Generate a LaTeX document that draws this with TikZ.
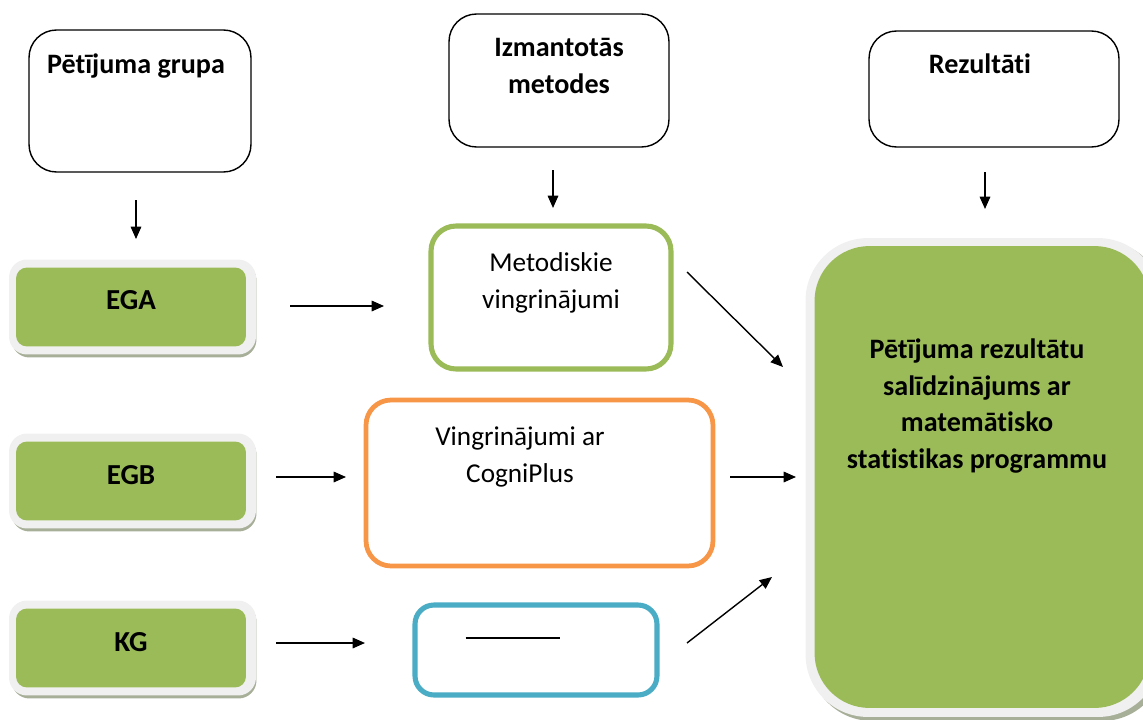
\documentclass[tikz,border=0pt]{standalone}
\usepackage{fontspec}
\setmainfont{Carlito}[Ligatures=NoCommon]
\usetikzlibrary{arrows.meta}
\definecolor{gfill}{HTML}{9BBB59}
\definecolor{gborder}{HTML}{F0F0F0}
\definecolor{gshadow}{HTML}{A7AF98}
\definecolor{orangeb}{HTML}{F79646}
\definecolor{blueb}{HTML}{4BACC6}
\tikzset{
  headbox/.style={draw=black, line width=0.8pt, rounded corners=0.55cm, fill=white},
  headtxt/.style={font=\fontsize{16}{21}\selectfont\bfseries, align=center},
  greenbox/.style={fill=gfill, rounded corners=0.22cm, minimum width=4.6cm, minimum height=1.58cm, inner sep=0pt},
  greenouter/.style={fill=gborder, rounded corners=0.36cm, minimum width=4.94cm, minimum height=1.9cm, inner sep=0pt},
  greenshadow/.style={fill=gshadow, rounded corners=0.36cm, minimum width=4.9cm, minimum height=1.9cm, inner sep=0pt},
  grptxt/.style={font=\fontsize{16.5}{21}\selectfont\bfseries},
  methbox/.style={rounded corners=0.5cm, fill=white, inner sep=0pt},
  bodytxt/.style={font=\fontsize{15.5}{21}\selectfont, align=center},
  arr/.style={-{Triangle[length=7pt,width=6pt]}, line width=0.8pt},
}
\begin{document}
\begin{tikzpicture}[x=0.02cm,y=-0.02cm]
\useasboundingbox (0,0) rectangle (1143,720);
% header boxes
\node[headbox, minimum width=4.44cm, minimum height=2.84cm] (h1) at (140,101) {};
\node[headtxt] (h1t) at (136,66) {Pētījuma grupa};
\node[headbox, minimum width=4.4cm, minimum height=2.66cm] (h2) at (559,80.5) {};
\node[headtxt] (h2t) at (559,66) {Izmantotās\\metodes};
\node[headbox, minimum width=5.0cm, minimum height=2.32cm] (h3) at (994,89) {};
\node[headtxt] (h3t) at (980,64) {Rezultāti};
% down arrows
\coordinate (d1s) at (136,200); \coordinate (d1e) at (136,239);
\coordinate (d2s) at (553,170); \coordinate (d2e) at (553,208);
\coordinate (d3s) at (985,172); \coordinate (d3e) at (985,209);
\draw[arr] (d1s) -- (d1e);
\draw[arr] (d2s) -- (d2e);
\draw[arr] (d3s) -- (d3e);
% group boxes
\foreach \nm/\yy in {ega/307, egb/481, kg/648}{
  \node[greenshadow] (\nm s) at (134,\yy+3) {};
  \node[greenouter] (\nm o) at (132.5,\yy) {};
  \node[greenbox] (\nm) at (131,\yy) {};
}
\node[grptxt] (egat) at (131,300) {EGA};
\node[grptxt] (egbt) at (131,475) {EGB};
\node[grptxt] (kgt) at (131,642) {KG};
% method boxes
\node[methbox, draw=gfill, line width=2.9pt, minimum width=4.8cm, minimum height=2.86cm] (met) at (551,297.5) {};
\node[bodytxt] (mett) at (551,283) {Metodiskie\\vingrinājumi};
\node[methbox, draw=orangeb, line width=2.7pt, minimum width=6.94cm, minimum height=3.32cm] (cog) at (539.5,483) {};
\node[bodytxt] (cogt) at (520,457) {Vingrinājumi ar\\CogniPlus};
\node[methbox, draw=blueb, line width=2.9pt, rounded corners=0.38cm, minimum width=4.84cm, minimum height=1.8cm] (non) at (536,650) {};
\node[bodytxt] (nont) at (513,638) {\rule{1.9cm}{0.6pt}};
% result box
\node[fill=gshadow, rounded corners=1.25cm, minimum width=7.1cm, minimum height=9.6cm, inner sep=0pt] (ress) at (987,481) {};
\node[fill=gborder, rounded corners=1.25cm, minimum width=7.1cm, minimum height=9.58cm, inner sep=0pt] (reso) at (983,477.5) {};
\node[fill=gfill, rounded corners=1.1cm, minimum width=6.7cm, minimum height=9.24cm, inner sep=0pt] (res) at (982,477) {};
\node[headtxt] (rest) at (977,406) {Pētījuma rezultātu\\salīdzinājums ar\\matemātisko\\statistikas programmu};
% horizontal arrows
\coordinate (a1s) at (290,306); \coordinate (a1e) at (384,306);
\coordinate (a2s) at (276,477); \coordinate (a2e) at (346,477);
\coordinate (a3s) at (276,643); \coordinate (a3e) at (365,643);
\draw[arr] (a1s) -- (a1e);
\draw[arr] (a2s) -- (a2e);
\draw[arr] (a3s) -- (a3e);
\coordinate (b1s) at (687,272); \coordinate (b1e) at (783,367);
\coordinate (b2s) at (730,477); \coordinate (b2e) at (796,477);
\coordinate (b3s) at (687,643); \coordinate (b3e) at (772,577);
\draw[arr] (b1s) -- (b1e);
\draw[arr] (b2s) -- (b2e);
\draw[arr] (b3s) -- (b3e);
\end{tikzpicture}
\end{document}
